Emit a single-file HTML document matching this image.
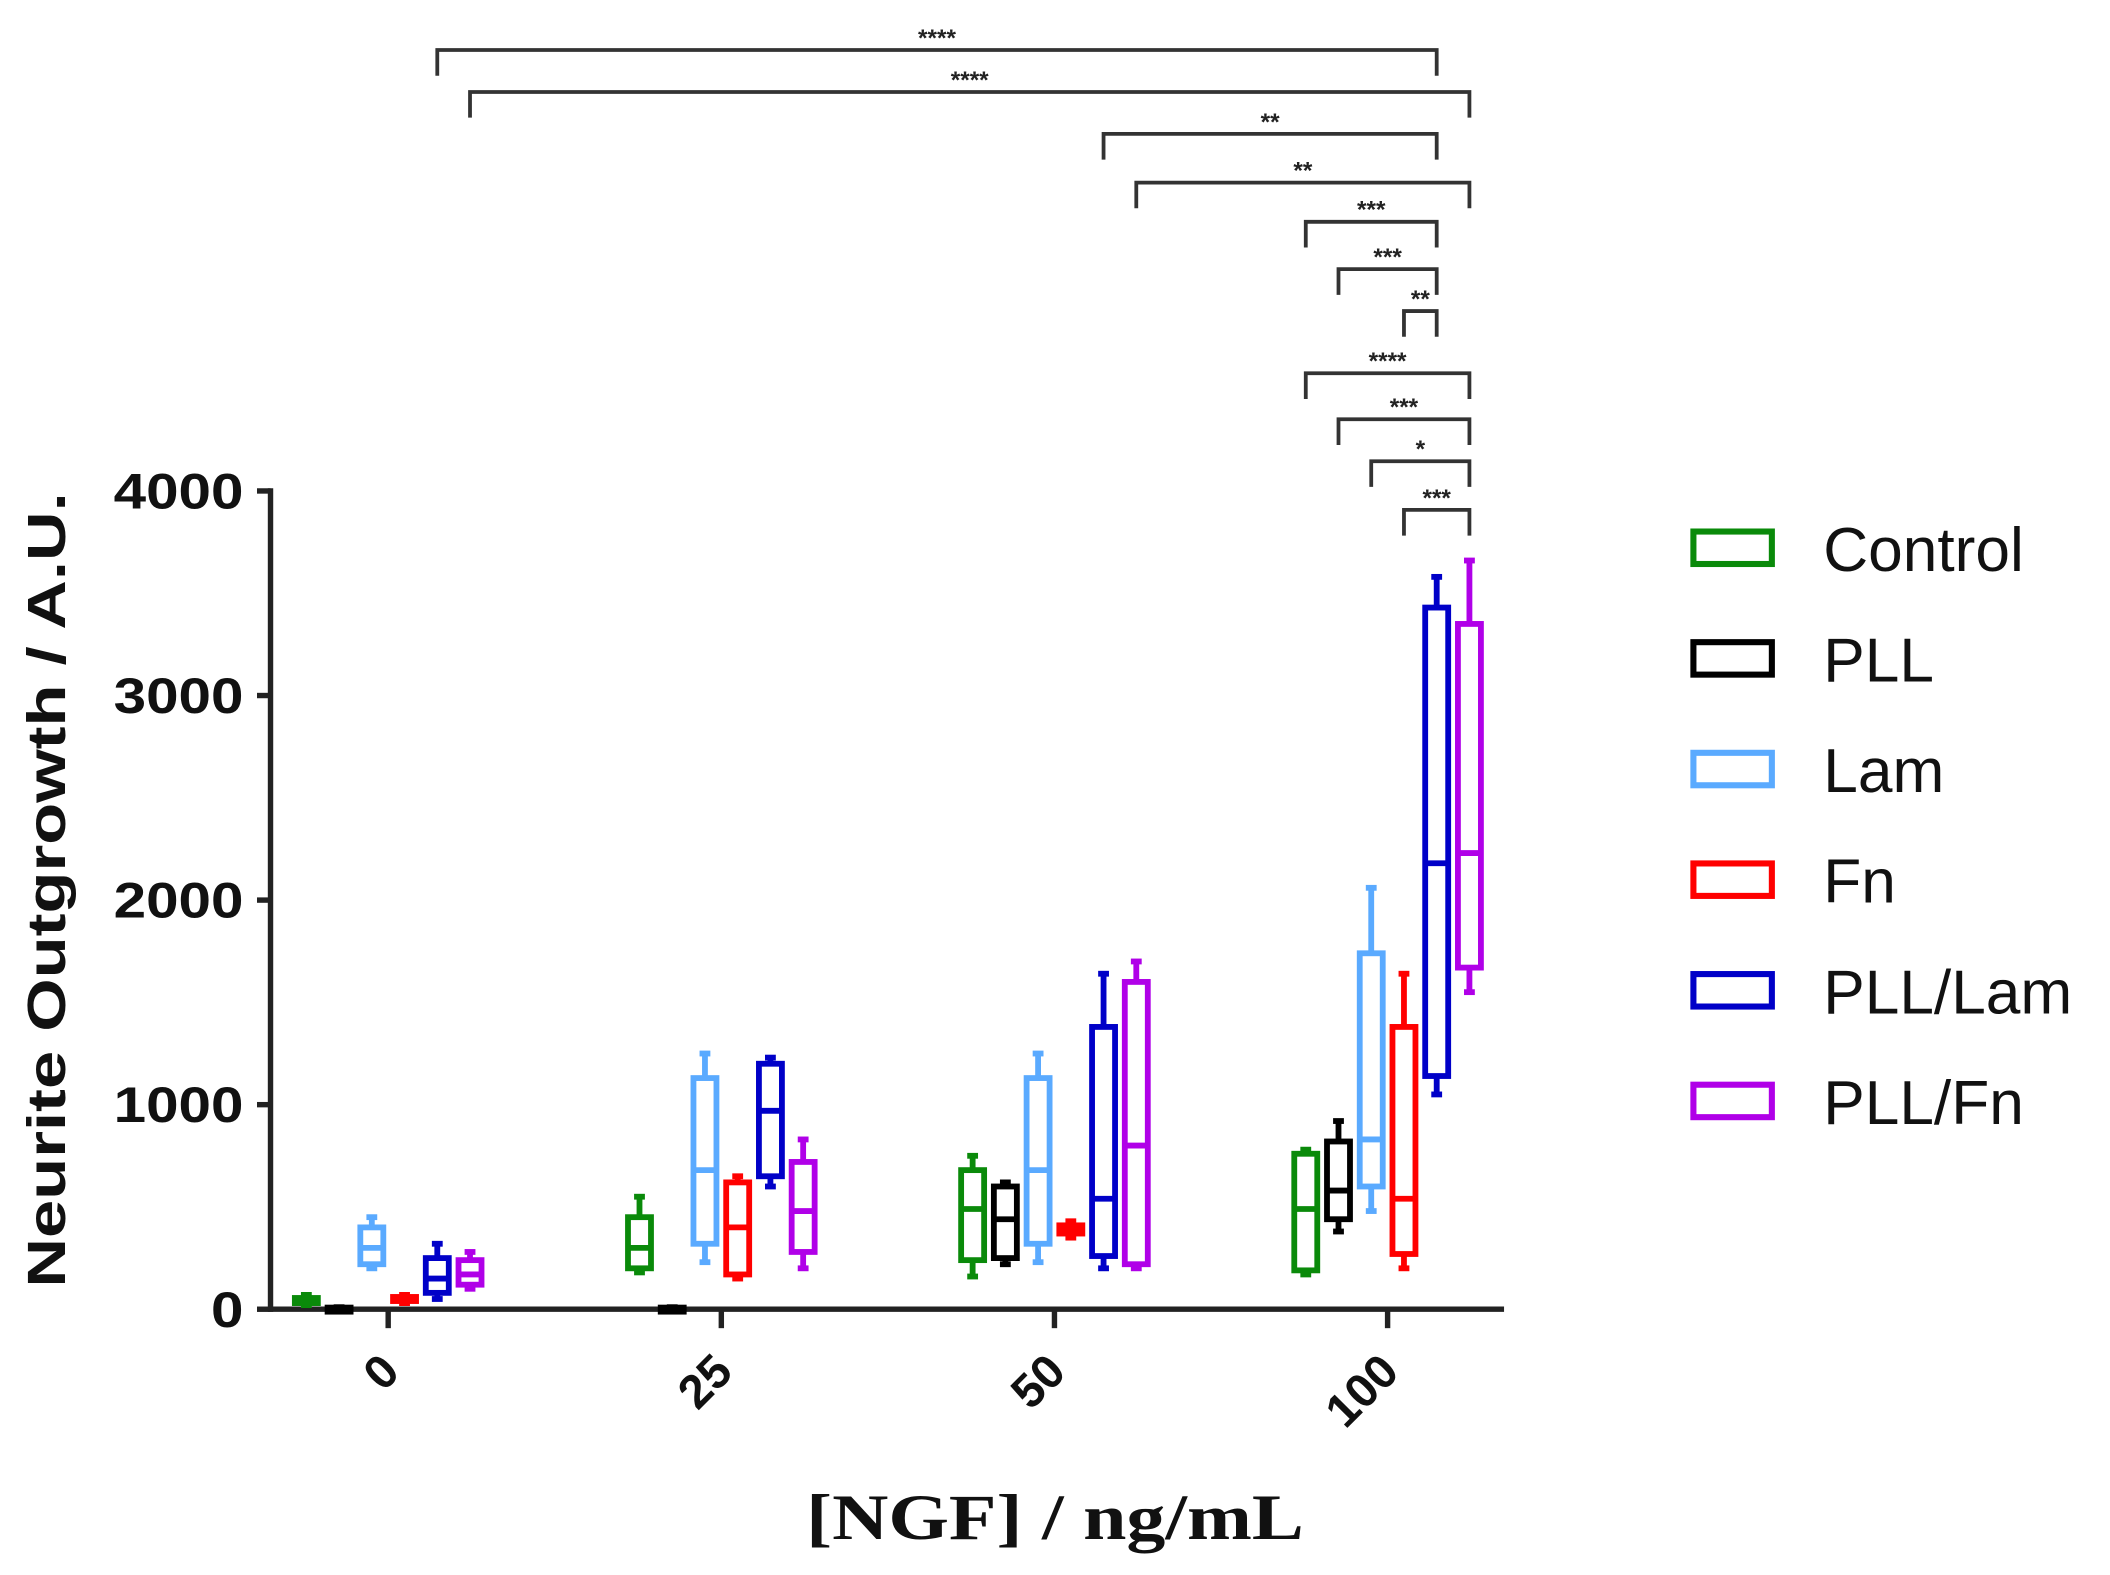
<!DOCTYPE html>
<html><head><meta charset="utf-8"><style>
html,body{margin:0;padding:0;background:#fff;width:2110px;height:1575px;overflow:hidden}
svg{display:block}
</style></head><body>
<svg id="chart" width="2110" height="1575" viewBox="0 0 1560 1164.5" preserveAspectRatio="none" xmlns="http://www.w3.org/2000/svg">
<g id="plot"></g>
</svg>
<script>
const categories = ["0","25","50","100"];
const seriesNames = ["Control","PLL","Lam","Fn","PLL/Lam","PLL/Fn"];
const seriesColors = ["#0a8a0a","#000000","#5aaaff","#ff0000","#0000c8","#b000e8"];
// [min, q1, median, q3, max] per category
const controlValues = [[20,30,45,55,70],[180,200,300,450,550],[160,240,490,680,750],[170,190,490,760,780]];
const pllValues = [[0,2,5,8,10],[0,2,5,8,10],[220,250,440,600,620],[380,440,580,820,920]];
const lamValues = [[200,220,300,400,450],[230,320,680,1130,1250],[230,320,680,1130,1250],[480,600,830,1740,2060]];
const fnValues = [[30,40,50,60,70],[150,170,400,620,650],[350,370,390,410,430],[200,270,540,1380,1640]];
const pllLamValues = [[50,80,150,250,320],[600,650,970,1200,1230],[200,260,540,1380,1640],[1050,1140,2180,3430,3580]];
const pllFnValues = [[100,120,170,240,280],[200,280,480,720,830],[200,220,800,1600,1700],[1550,1670,2230,3350,3660]];
const yTicks = [0,1000,2000,3000,4000];
// significance brackets: [fromCategory, fromSeries, toCategory, toSeries, label]
const brackets = [
 [0,4,3,4,"****"],[0,5,3,5,"****"],[2,4,3,4,"**"],[2,5,3,5,"**"],
 [3,0,3,4,"***"],[3,1,3,4,"***"],[3,3,3,4,"**"],
 [3,0,3,5,"****"],[3,1,3,5,"***"],[3,2,3,5,"*"],[3,3,3,5,"***"]];
const allSeries = [controlValues,pllValues,lamValues,fnValues,pllLamValues,pllFnValues];

const NS="http://www.w3.org/2000/svg";
const g=document.getElementById('plot');
const X0=200, XEND=1112, Y0=968, Y4000=363;
function yScale(v){return Y0-(v/4000)*(Y0-Y4000);}
function xCat(i){return 287+i*246.3;}
function xBox(c,s){return xCat(c)+(s-2.5)*24.2;}
function mk(tag,attrs,parent){const e=document.createElementNS(NS,tag);for(const k in attrs)e.setAttribute(k,attrs[k]);(parent||g).appendChild(e);return e;}

let a=mk('line',{x1:X0,y1:Y0,x2:XEND,y2:Y0,stroke:'#222','stroke-width':4});


a=mk('line',{x1:X0,y1:Y4000-2,x2:X0,y2:Y0+2,stroke:'#222','stroke-width':4});


yTicks.forEach(t=>{
  const y=yScale(t);
  let l=mk('line',{x1:X0-10,y1:y,x2:X0,y2:y,stroke:'#222','stroke-width':4});
  
  
  let tx=mk('text',{x:X0-20,y:y+13,'text-anchor':'end','font-family':'Liberation Sans, sans-serif','font-weight':'bold','font-size':37,fill:'#111','textLength':String(t).length*24,'lengthAdjust':'spacingAndGlyphs'});
  tx.textContent=t;
  
  
});
categories.forEach((c,i)=>{
  const x=xCat(i);
  let l=mk('line',{x1:x,y1:Y0,x2:x,y2:Y0+14,stroke:'#222','stroke-width':4});
  
  
  let tx=mk('text',{x:x+10,y:Y0+48,'text-anchor':'end','font-family':'Liberation Sans, sans-serif','font-weight':'bold','font-size':35,fill:'#111',transform:`rotate(-45 ${x+10} ${Y0+48})`});
  tx.textContent=c;
  
  
});
let yt=mk('text',{x:0,y:0,'text-anchor':'middle','font-family':'Liberation Sans, sans-serif','font-weight':'bold','font-size':40,fill:'#111',transform:'translate(48 658) rotate(-90)','textLength':588,'lengthAdjust':'spacingAndGlyphs'});
yt.textContent='Neurite Outgrowth / A.U.';


let xt=mk('text',{x:780,y:1138,'text-anchor':'middle','font-family':'Liberation Serif, serif','font-weight':'bold','font-size':48,fill:'#111','textLength':368,'lengthAdjust':'spacingAndGlyphs'});
xt.textContent='[NGF] / ng/mL';



allSeries.forEach((ser,s)=>{
  ser.forEach((v,c)=>{
    const x=xBox(c,s), w=17, col=seriesColors[s];
    const grp=mk('g',{stroke:col,'stroke-width':4.3,fill:'none'});
    
    
    mk('line',{x1:x,y1:yScale(v[0]),x2:x,y2:yScale(v[1])},grp);
    mk('line',{x1:x,y1:yScale(v[3]),x2:x,y2:yScale(v[4])},grp);
    mk('line',{x1:x-4,y1:yScale(v[0]),x2:x+4,y2:yScale(v[0])},grp);
    mk('line',{x1:x-4,y1:yScale(v[4]),x2:x+4,y2:yScale(v[4])},grp);
    const h=Math.max(yScale(v[1])-yScale(v[3]),3);
    mk('rect',{x:x-w/2,y:yScale(v[3]),width:w,height:h},grp);
    mk('line',{x1:x-w/2,y1:yScale(v[2]),x2:x+w/2,y2:yScale(v[2])},grp);
  });
});

const bracketY=[37,68,99,135,164,199,230,276,310,341,377];
brackets.forEach((b,i)=>{
  const x1=xBox(b[0],b[1]), x2=xBox(b[2],b[3]), y=bracketY[i];
  const grp=mk('g',{});
  
  
  mk('path',{d:`M${x1} ${y+19} V${y} H${x2} V${y+19}`,stroke:'#333','stroke-width':2.8,fill:'none'},grp);
  const t=mk('text',{x:(x1+x2)/2,y:y-3,'text-anchor':'middle','font-family':'Liberation Sans, sans-serif','font-weight':'bold','font-size':18,fill:'#222'},grp);
  t.textContent=b[4];
});

seriesNames.forEach((n,i)=>{
  const y=405+i*81.8;
  const grp=mk('g',{});
  
  
  mk('rect',{x:1252,y:y-12,width:58,height:24,fill:'none',stroke:seriesColors[i],'stroke-width':4.5},grp);
  const t=mk('text',{x:1348,y:y+17,'font-family':'Liberation Sans, sans-serif','font-size':46,fill:'#111'},grp);
  t.textContent=n;
});
</script>
</body></html>
